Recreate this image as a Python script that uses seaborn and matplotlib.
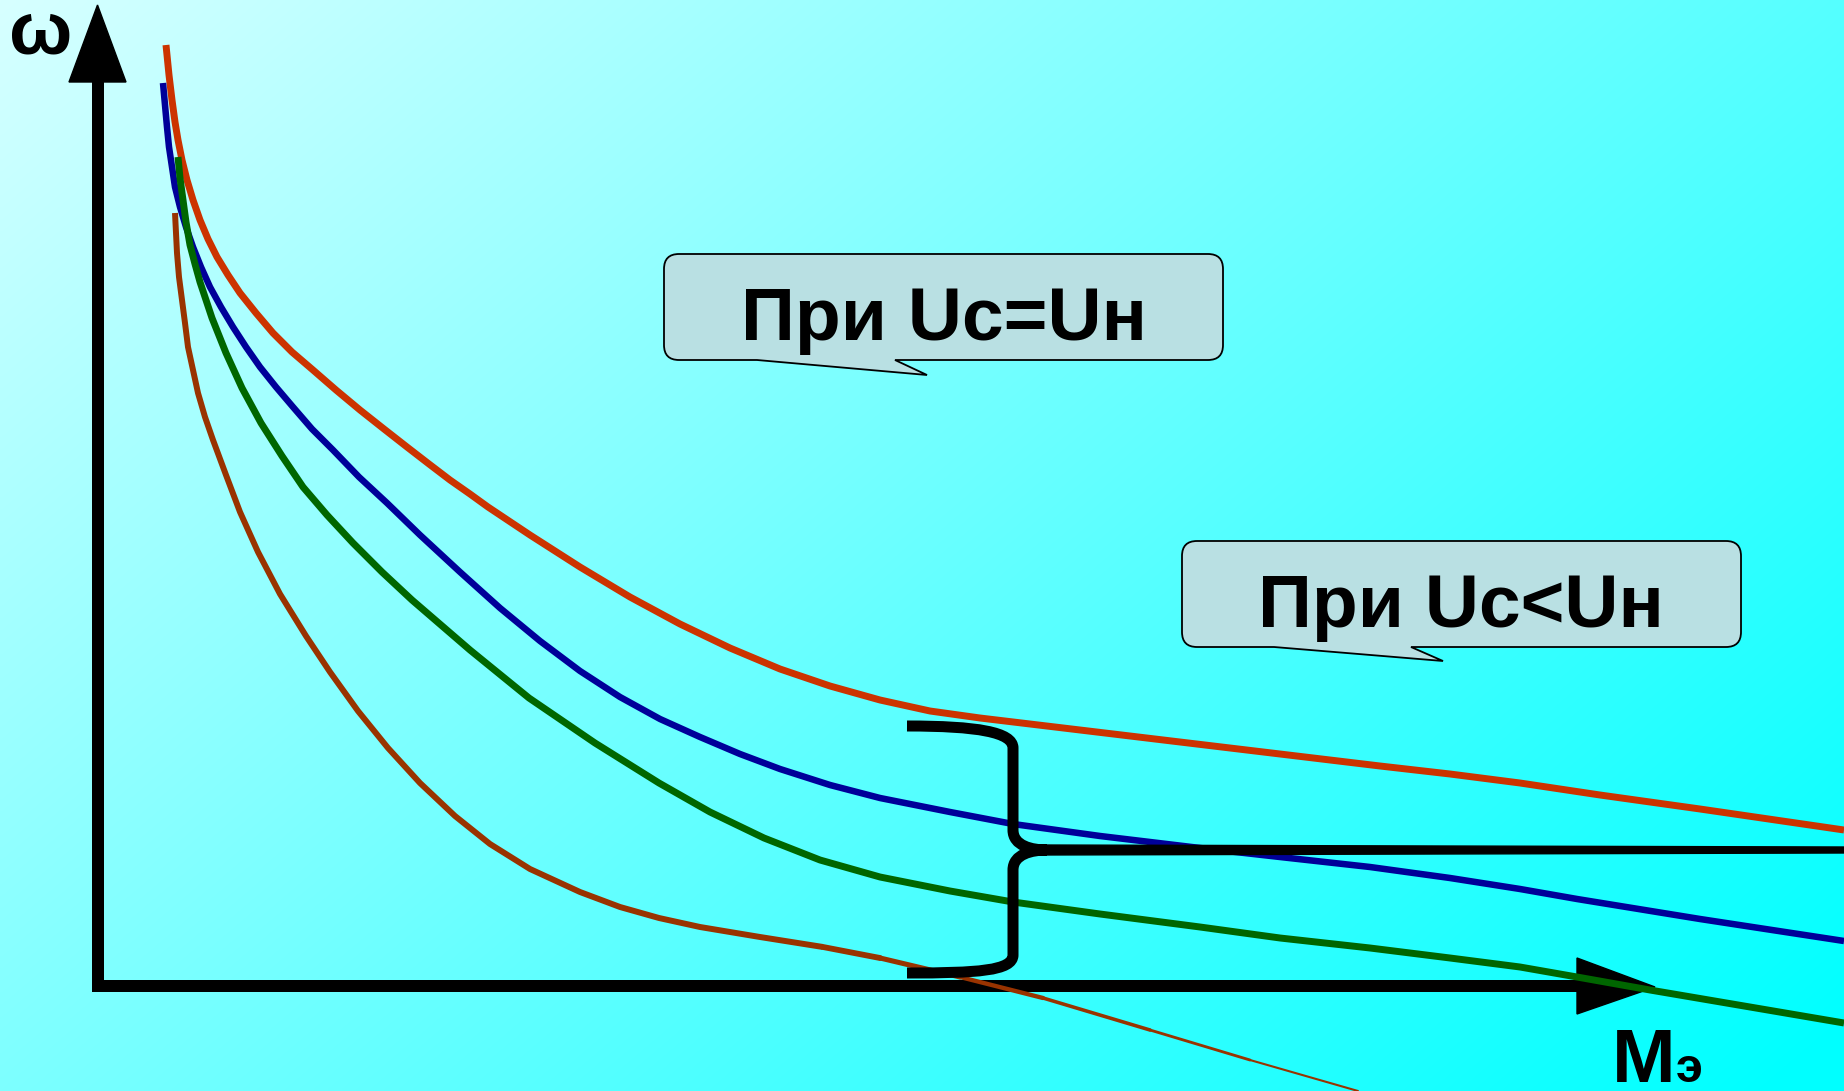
import numpy as np
import matplotlib
matplotlib.use("Agg")
import matplotlib.pyplot as plt
from matplotlib.path import Path
from matplotlib.patches import PathPatch, Polygon
from matplotlib.collections import LineCollection
import pandas as pd
import seaborn as sns

# Mechanical characteristics w(Mэ); drawing units measured from the axes corner
torque_red = [69, 72, 75, 78, 81, 85, 90, 96, 103, 111, 120, 131, 143, 159, 176, 195, 216,
              239, 263, 287, 310, 332, 353, 373, 391, 433, 483, 533, 583, 633, 683, 733,
              783, 833, 883, 983, 1083, 1183, 1283, 1353, 1423, 1503, 1603, 1747]
speed_red = [941, 911, 886, 864, 846, 826, 806, 786, 766, 747, 729, 711, 693, 673, 653, 634,
             616, 596, 576, 557, 539, 522, 506, 492, 479, 451, 419, 389, 362, 338, 317, 300,
             286, 275, 268, 256, 244, 232, 220, 212, 203, 191, 177, 156]

torque_blue = [66, 68, 70, 72, 75, 78, 83, 89, 96, 104, 113, 124, 136, 149, 163, 179, 196,
               215, 236, 262, 290, 323, 363, 403, 443, 483, 523, 563, 603, 643, 683, 733,
               783, 853, 916, 1003, 1103, 1183, 1273, 1353, 1423, 1480, 1603, 1747]
speed_blue = [903, 881, 859, 839, 819, 799, 779, 759, 739, 719, 699, 679, 659, 639, 619, 599,
              579, 557, 536, 509, 483, 451, 414, 378, 345, 315, 289, 267, 249, 232, 217, 201,
              188, 174, 162, 150, 138, 129, 119, 108, 97, 87, 67, 45]

torque_green = [81, 83, 86, 89, 93, 98, 103, 115, 129, 145, 164, 185, 206, 230, 256, 285,
                315, 373, 432, 498, 562, 613, 667, 723, 783, 853, 916, 1003, 1103, 1183,
                1273, 1353, 1423, 1480, 1553, 1653, 1747]
speed_green = [829, 808, 786, 764, 741, 722, 704, 668, 633, 598, 563, 530, 499, 471, 443, 414,
               386, 336, 288, 243, 203, 174, 148, 126, 109, 95, 84, 72, 59, 48,
               38, 28, 19, 9, -4, -21, -37]

torque_brown = [78, 79, 80, 82, 85, 88, 91, 96, 101, 108, 116, 129, 143, 161, 183, 209, 233,
                261, 291, 323, 358, 393, 433, 483, 523, 562, 603, 663, 726, 783, 863, 946,
                1053, 1153, 1261]
speed_brown = [773, 753, 733, 709, 686, 663, 639, 616, 593, 569, 546, 511, 474, 434, 392, 350,
               314, 275, 238, 203, 170, 142, 117, 94, 79, 68, 59, 49, 39, 28, 9, -12,
               -44, -74, -105]

callout_texts = ["При Uc=Uн", "При Uc<Uн"]

sns.set_style("white")
plt.rcParams['font.family'] = ['Liberation Sans', 'DejaVu Sans']
plt.rcParams['text.color'] = 'black'

W, H = 1844, 1091
fig = plt.figure(figsize=(W / 100, H / 100), dpi=100)
ax = fig.add_axes([0, 0, 1, 1])
X0, X1 = -97, 1747
Y0, Y1 = -105, 986

# diagonal light-cyan gradient background
u = np.linspace(0, 1, 460)[None, :]
v = np.linspace(0, 1, 272)[:, None]
red_ch = np.clip(215 - 130 * u - 90 * v, 0, 255) / 255.0
ones = np.ones_like(red_ch)
bg = np.dstack([red_ch, ones, ones])
ax.imshow(bg, extent=(X0, X1, Y0, Y1), origin='upper', aspect='auto', zorder=0,
          interpolation='bilinear')

# coordinate axes with arrowheads
px = 0.72  # points per pixel at 100 dpi
ax.plot([0.5, 0.5], [-6, 906], color='black', lw=12 * px, solid_capstyle='butt', zorder=2)
ax.add_patch(Polygon([(-28, 904), (29, 904), (0.5, 981)], closed=True, color='black', zorder=2))
ax.plot([-5, 1481], [0, 0], color='black', lw=12 * px, solid_capstyle='butt', zorder=2)
ax.add_patch(Polygon([(1480, 28), (1480, -28), (1558, -1)], closed=True, color='black', zorder=2))

ax.text(-56, 933, "ω", ha='center', va='baseline', fontsize=54, fontweight='bold',
        color='black', zorder=6)
ax.text(1515, -96, "M", ha='left', va='baseline', fontsize=55, fontweight='bold',
        color='black', zorder=6)
ax.text(1579, -96, "э", ha='left', va='baseline', fontsize=35, fontweight='bold',
        color='black', zorder=6)

# characteristic curves
n_brown_body = torque_brown.index(726) + 1
curves = [
    (torque_red, speed_red, '#CC3300', 5.0),
    (torque_blue, speed_blue, '#000099', 4.7),
    (torque_green, speed_green, '#006600', 5.0),
    (torque_brown[:n_brown_body], speed_brown[:n_brown_body], '#993300', 4.3),
]
for i, (mx, wy, col, lw) in enumerate(curves):
    df = pd.DataFrame({'M': mx, 'w': wy})
    sns.lineplot(data=df, x='M', y='w', ax=ax, color=col, lw=lw, sort=False,
                 estimator=None, zorder=3 + i * 0.1)
for line in ax.lines:
    line.set_solid_capstyle('butt')
    line.set_solid_joinstyle('round')

# thinning tail of the lowest characteristic
tail = list(zip(torque_brown[n_brown_body - 1:], speed_brown[n_brown_body - 1:]))
segs = [[tail[k], tail[k + 1]] for k in range(len(tail) - 1)]
widths = np.linspace(4.2, 1.5, len(segs))
ax.add_collection(LineCollection(segs, colors='#993300', linewidths=widths,
                                 capstyle='round', zorder=3.3))

ax.set_xlabel('')
ax.set_ylabel('')
ax.set_xlim(X0, X1)
ax.set_ylim(Y0, Y1)
ax.axis('off')

# curly brace grouping the reduced-voltage curves
C3, C4, L, M_ = Path.CURVE3, Path.CURVE4, Path.LINETO, Path.MOVETO
brace_verts = [(810, 260), (880, 260), (916, 254), (916, 238),
               (916, 156), (916, 140), (935, 136), (950, 136),
               (950, 136), (935, 136), (916, 132), (916, 116),
               (916, 31), (916, 15), (880, 13), (810, 13)]
brace_codes = [M_, C4, C4, C4,
               L, C4, C4, C4,
               M_, C4, C4, C4,
               L, C4, C4, C4]
ax.add_patch(PathPatch(Path(brace_verts, brace_codes), fill=False, edgecolor='black',
                       lw=11 * px, capstyle='butt', joinstyle='round', zorder=4))
ax.add_patch(Polygon([(940, 141), (1747, 139), (1747, 133), (940, 131)], closed=True,
                     color='black', zorder=4))


def callout(x0, x1, yb, yt, pl, pr, tip, r=15):
    verts = [(x0 + r, yt), (x1 - r, yt), (x1, yt), (x1, yt - r), (x1, yb + r), (x1, yb),
             (x1 - r, yb), (pr, yb), tip, (pl, yb), (x0 + r, yb), (x0, yb), (x0, yb + r),
             (x0, yt - r), (x0, yt), (x0 + r, yt), (x0 + r, yt)]
    codes = [M_, L, C3, C3, L, C3, C3, L, L, L, L, C3, C3, L, C3, C3, Path.CLOSEPOLY]
    ax.add_patch(PathPatch(Path(verts, codes), facecolor='#B9E0E3', edgecolor='black',
                           lw=1.3, zorder=5))


callout(567, 1126, 626, 732, 660, 798, (830, 611))
ax.text(847, 646, callout_texts[0], ha='center', va='baseline', fontsize=54,
        fontweight='bold', color='black', zorder=6)
callout(1085, 1644, 339, 445, 1177, 1314, (1346, 325))
ax.text(1364, 359, callout_texts[1], ha='center', va='baseline', fontsize=54,
        fontweight='bold', color='black', zorder=6)

fig.savefig("out.png", dpi=100)
